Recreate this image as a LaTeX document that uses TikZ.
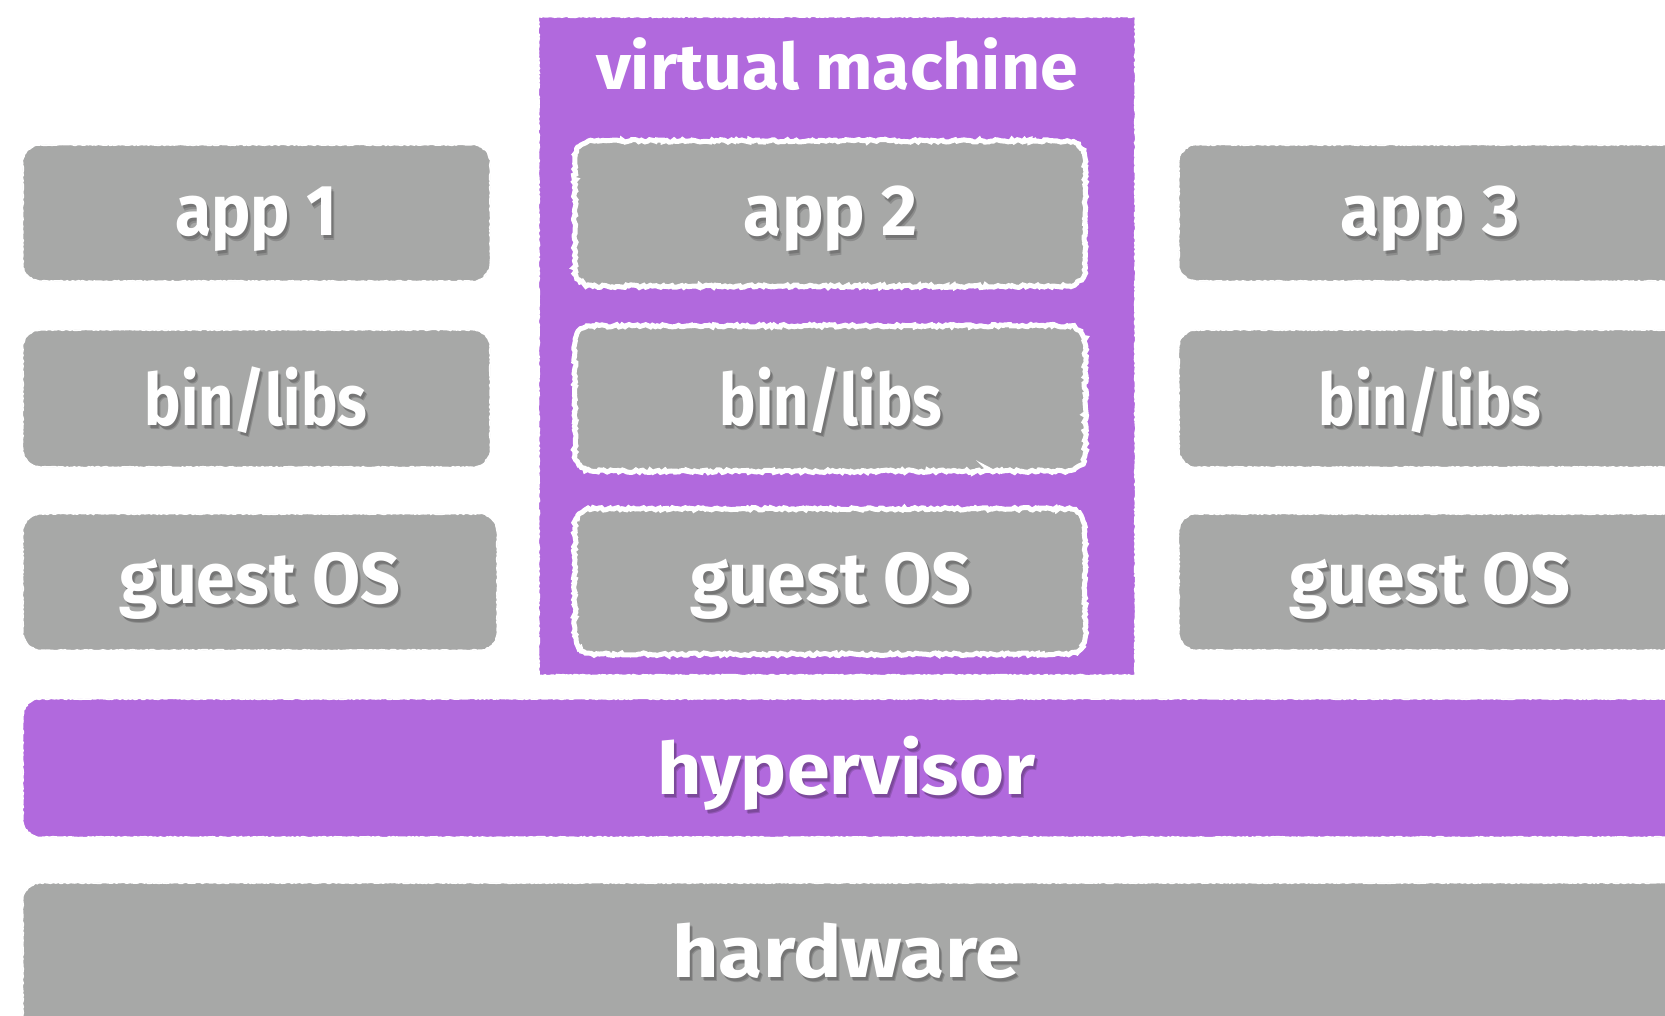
\documentclass[tikz,border=0pt]{standalone}
\usepackage{fontspec}
\usepackage{graphicx}
\usetikzlibrary{decorations.pathmorphing,fit}
\newfontfamily\chalkfont[FakeStretch=0.85]{Fira Sans}
\definecolor{boxgray}{HTML}{A7A8A7}
\definecolor{vmpurple}{HTML}{B169DD}
\tikzset{
  x=1pt, y=-1pt,
  roughedge/.style={postaction={sharp corners, decorate,
    decoration={random steps, segment length=2pt, amplitude=#1},
    draw=white, line width=1.6pt}},
  graybox/.style={fill=boxgray, rounded corners=18pt, roughedge=0.6pt},
  purplebox/.style={fill=vmpurple, rounded corners=18pt, roughedge=0.6pt},
  vmframe/.style={fill=vmpurple, roughedge=0.7pt},
  innerbox/.style={fill=boxgray, rounded corners=18pt,
    postaction={sharp corners, decorate,
      decoration={random steps, segment length=2.4pt, amplitude=1.3pt},
      draw=white, line width=5pt}},
  lbl/.style={text=white, font=\chalkfont\bfseries\fontsize{72}{80}\selectfont,
    inner sep=0pt, anchor=base},
  shadowlbl/.style={lbl, text=black, opacity=0.16},
  title/.style={lbl, font=\chalkfont\bfseries\fontsize{64}{70}\selectfont},
}
% #1 name, #2 box style, #3/#4 opposite corners, #5 label base point (x,y),
% #6 text, #7 horizontal stretch of the lettering; the label gets a soft drop shadow
\newcommand\layerbox[7]{%
  \node[fit={#3 #4}, inner sep=0pt] (#1) {};
  \path[#2] (#1.north west) rectangle (#1.south east);
  \node[shadowlbl] (#1-shadowa) at ([xshift=2pt,yshift=-3pt]#5) {\scalebox{#7}[1]{#6}};
  \node[shadowlbl] (#1-shadowb) at ([xshift=3pt,yshift=-4.5pt]#5) {\scalebox{#7}[1]{#6}};
  \node[lbl] (#1-label) at (#5) {\scalebox{#7}[1]{#6}};
}
\begin{document}
\begin{tikzpicture}
\useasboundingbox (0,0) rectangle (1665,1016);

% left stack
\layerbox{app1}{graybox}{(23,145)}{(490,281)}{256,236}{app 1}{1.08}
\layerbox{bin1}{graybox}{(23,330)}{(490,467)}{256,425}{bin/libs}{1.0}
\layerbox{os1}{graybox}{(23,514)}{(497,650)}{260,603}{guest OS}{1.14}

% virtual machine frame with its own stack
\node[fit={(539,17) (1135,675)}, inner sep=0pt] (vm) {};
\path[vmframe] (vm.north west) rectangle (vm.south east);
\node[title] (vm-label) at (837,90) {\scalebox{1.25}[1]{virtual machine}};
\layerbox{app2}{innerbox}{(575,141)}{(1085,286)}{831,236}{app 2}{1.14}
\layerbox{bin2}{innerbox}{(575,326)}{(1085,471)}{831,425}{bin/libs}{1.0}
\layerbox{os2}{innerbox}{(575,509)}{(1085,654)}{831,603}{guest OS}{1.14}

% right stack (runs past the edge)
\layerbox{app3}{graybox}{(1179,145)}{(1700,281)}{1430,236}{app 3}{1.17}
\layerbox{bin3}{graybox}{(1179,330)}{(1700,467)}{1430,425}{bin/libs}{1.0}
\layerbox{os3}{graybox}{(1179,514)}{(1700,650)}{1430,603}{guest OS}{1.14}

% shared layers
\layerbox{hyp}{purplebox}{(23,699)}{(1700,837)}{846,794}{hypervisor}{1.26}
\layerbox{hw}{graybox}{(23,883)}{(1700,1060)}{846,977}{hardware}{1.32}
\end{tikzpicture}
\end{document}
